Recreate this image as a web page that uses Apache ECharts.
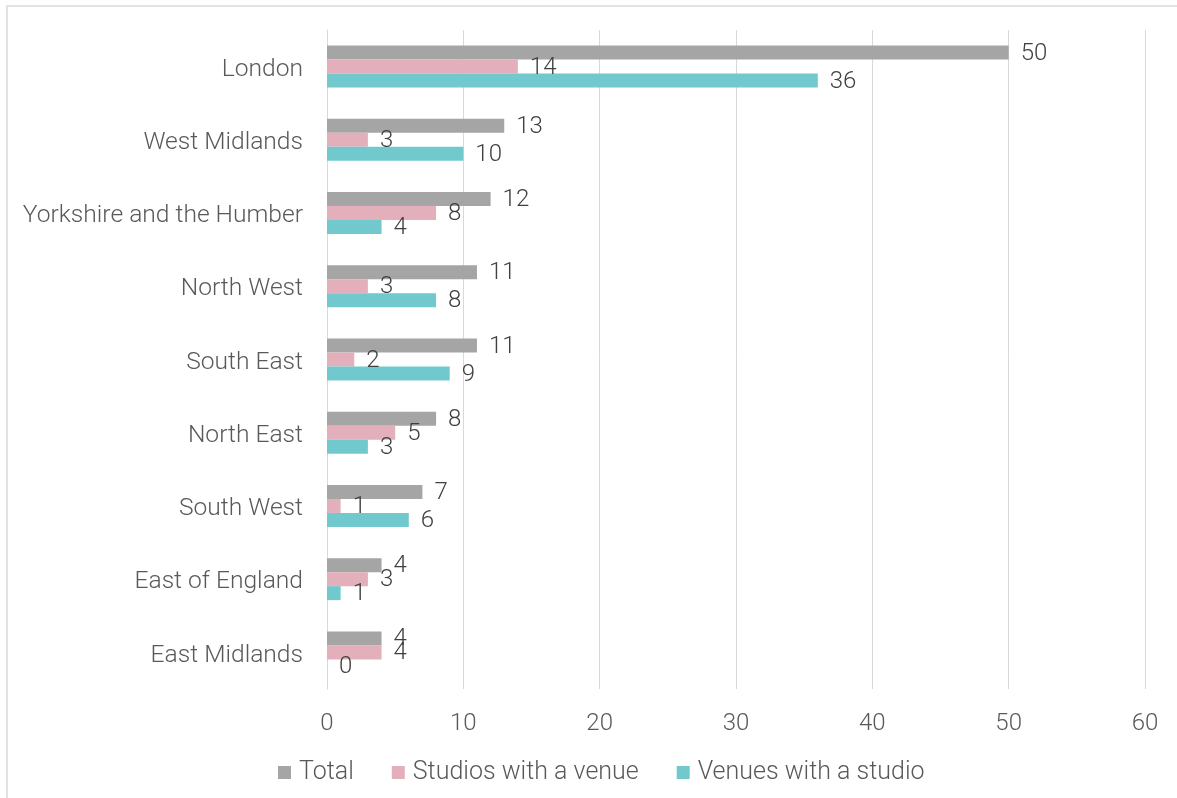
<!DOCTYPE html>
<html>
<head>
<meta charset="utf-8">
<script src="https://cdn.jsdelivr.net/npm/echarts@6/dist/echarts.min.js"></script>
<style>
html,body{margin:0;padding:0;background:#fff;}
#chart{width:1177px;height:798px;}
</style>
</head>
<body>
<div id="chart"></div>
<script>
const categories = ["London","West Midlands","Yorkshire and the Humber","North West","South East","North East","South West","East of England","East Midlands"];
const totalValues = [50,13,12,11,11,8,7,4,4];
const studiosWithVenue = [14,3,8,3,2,5,1,3,4];
const venuesWithStudio = [36,10,4,8,9,3,6,1,0];
const seriesNames = ["Total","Studios with a venue","Venues with a studio"];
const xTicks = [0,10,20,30,40,50,60];

const FONT = "Roboto";
const colors = ["#a5a5a5","#e2afbb","#71c9cd"];
const chart = echarts.init(document.getElementById('chart'));
const labelStyle = {show:true, position:'right', distance:12, color:'#404040', fontSize:24, fontFamily:FONT, fontWeight:300, offset:[0,1]};
function mk(name, data, color){
  return {name, type:'bar', data, barWidth:14, barGap:'0%', barCategoryGap:'42%',
    itemStyle:{color}, label:labelStyle, emphasis:{disabled:true}};
}
chart.setOption({
  animation:false,
  textStyle:{fontFamily:FONT},
  graphic:[{type:'rect', shape:{x:7,y:6,width:1200,height:820}, style:{fill:'none', stroke:'#d9d9d9', lineWidth:1.5}, silent:true, z:-1}],
  grid:{left:327, right:32, top:30, bottom:109, containLabel:false},
  legend:{bottom:8, left:273, itemWidth:13, itemHeight:13, itemGap:38, icon:'rect',
    textStyle:{fontSize:25, color:'#595959', fontFamily:FONT, fontWeight:300, padding:[0,0,0,3]},
    data:seriesNames},
  xAxis:{type:'value', min:xTicks[0], max:xTicks[xTicks.length-1], interval:10,
    axisLine:{show:false}, axisTick:{show:false},
    splitLine:{lineStyle:{color:'#d9d9d9', width:1}},
    axisLabel:{color:'#595959', fontSize:24, fontFamily:FONT, fontWeight:300, margin:23}},
  yAxis:{type:'category', data:categories, inverse:true,
    axisLine:{show:true, lineStyle:{color:'#d9d9d9'}}, axisTick:{show:false},
    axisLabel:{margin:24, formatter:'{a|{value}}',
      rich:{a:{color:'#595959', fontSize:24.6, fontFamily:FONT, fontWeight:300, padding:[6,0,0,0]}}}},
  series:[mk(seriesNames[0], totalValues, colors[0]), mk(seriesNames[1], studiosWithVenue, colors[1]), mk(seriesNames[2], venuesWithStudio, colors[2])]
});
</script>
</body>
</html>
